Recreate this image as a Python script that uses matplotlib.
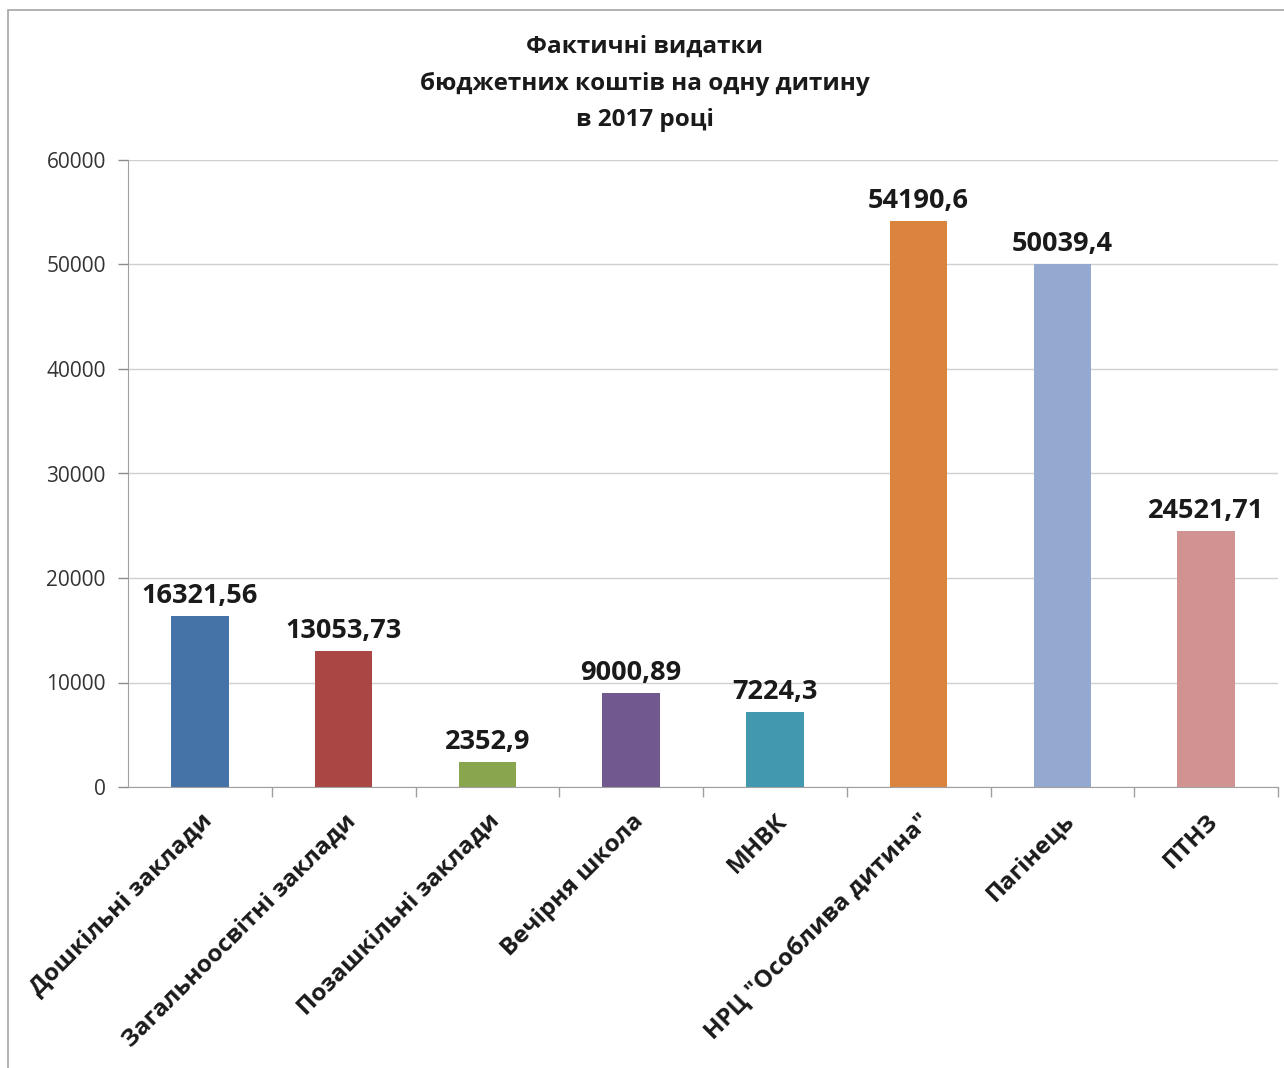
import matplotlib.pyplot as plt
from matplotlib.patches import Rectangle

plt.rcParams['font.family'] = ['Open Sans', 'DejaVu Sans']

# Data
categories = ["Дошкільні заклади", "Загальноосвітні заклади", "Позашкільні заклади",
              "Вечірня школа", "МНВК", "НРЦ \"Особлива дитина\"", "Пагінець", "ПТНЗ"]
values = [16321.56, 13053.73, 2352.9, 9000.89, 7224.3, 54190.6, 50039.4, 24521.71]
colors = ["#4572A7", "#AA4643", "#89A54E", "#71588F", "#4198AF", "#DB843D", "#93A9CF", "#D19392"]
title = "Фактичні видатки\nбюджетних коштів на одну дитину\nв 2017 році"

fig = plt.figure(figsize=(12.84, 10.68), dpi=100)
fig.patches.append(Rectangle((8 / 1284, -0.01), 1.1, (1068 - 10) / 1068 + 0.01,
                             transform=fig.transFigure, fill=False,
                             edgecolor="#A6A6A6", linewidth=1.2))
ax = fig.add_axes([128 / 1284, (1068 - 787) / 1068, 1150 / 1284, 627 / 1068])

x = range(len(categories))
bars = ax.bar(x, values, 0.4, color=colors)

for xi, v in zip(x, values):
    ax.annotate(str(v).replace('.', ','), (xi, v), xytext=(0, 5), textcoords="offset points",
                ha="center", va="bottom", fontsize=19.5, fontweight="bold", color="#1a1a1a")

ax.set_xlim(-0.5, len(categories) - 0.5)
ax.set_ylim(0, 60000)
ax.set_yticks(range(0, 60001, 10000))
ax.tick_params(axis="y", labelsize=15, colors="#8c8c8c", labelcolor="#333333", length=7, width=1, pad=9)
ax.yaxis.grid(True, color="#D0D0D0", linewidth=1)
ax.set_axisbelow(True)

ax.set_xticks(list(x))
ax.set_xticklabels(categories, rotation=45, ha="right", va="top", rotation_mode="anchor",
                   fontsize=17.5, fontweight="bold", color="#1a1a1a")
ax.tick_params(axis="x", length=0, pad=16)
ax.set_xticks([i + 0.5 for i in x], minor=True)
ax.tick_params(axis="x", which="minor", length=7, color="#A0A0A0", width=1)

for side in ["top", "right"]:
    ax.spines[side].set_visible(False)
ax.spines["left"].set_color("#A0A0A0")
ax.spines["bottom"].set_color("#A0A0A0")

fig.text(645 / 1284, 1 - 35 / 1068, title, ha="center", va="top", fontsize=17.5,
         fontweight="bold", color="#1a1a1a", linespacing=1.7)

fig.savefig("out.png", dpi=100)
